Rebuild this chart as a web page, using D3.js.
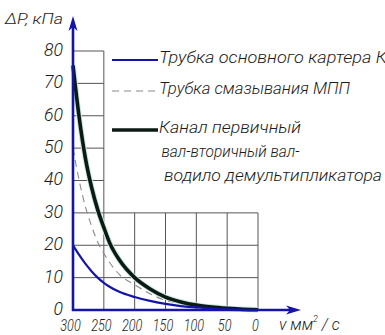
<!DOCTYPE html>
<html>
<head>
<meta charset="utf-8">
<script src="https://cdn.jsdelivr.net/npm/d3@7"></script>
<style>
  body { margin: 0; background: #fff; }
  text { font-family: Roboto, "DejaVu Sans", sans-serif; font-style: italic; font-weight: 300; fill: #1a1a1a; }
</style>
</head>
<body>
<div id="chart"></div>
<script>
// Viscosity (mm²/s) vs pressure drop (kPa)
const viscosity = [300, 290, 280, 270, 260, 250, 240, 225, 200, 175, 150, 125, 100, 75, 50, 25, 0];
const crankcaseTube = [20, 17, 14.3, 12, 10, 8.4, 7.1, 5.6, 4, 2.8, 1.9, 1.2, 0.8, 0.45, 0.2, 0.05, 0];
const lubeTube = [50, 40, 32, 26, 21, 17.5, 14.5, 11, 7.8, 5, 3, 2, 1.2, 0.7, 0.4, 0.15, 0.05];
const shaftChannel = [75.5, 59.5, 47, 38, 31, 25.5, 20.5, 15.5, 10, 6.5, 4, 2.5, 1.5, 0.9, 0.5, 0.2, 0.1];

const vTicks = [300, 250, 200, 150, 100, 50, 0];
const pTicks = [0, 10, 20, 30, 40, 50, 60, 70, 80];

const legendLabels = [
    ["Трубка основного картера К"],
    ["Трубка смазывания МПП"],
    ["Канал первичный", "вал-вторичный вал-", "водило демультипликатора"]
];

const W = 385, H = 335;
const axisColor = "#1414a8";

const svg = d3.select("#chart").append("svg")
    .attr("width", W)
    .attr("height", H);

const x = d3.scaleLinear().domain([300, 0]).range([73, 258]);
const y = d3.scaleLinear().domain([0, 80]).range([310, 51]);

// grid: full height only in the first column, the rest up to 30
const grid = svg.append("g").attr("stroke", "#555").attr("stroke-width", 1);
pTicks.filter(d => d > 0).forEach(p => {
    grid.append("line")
        .attr("x1", x(300)).attr("x2", p > 30 ? x(250) : x(0))
        .attr("y1", y(p)).attr("y2", y(p));
});
vTicks.filter(d => d < 300).forEach(v => {
    grid.append("line")
        .attr("x1", x(v)).attr("x2", x(v))
        .attr("y1", y(0)).attr("y2", v === 250 ? y(80) : y(30));
});

// curves
const line = vals => d3.line()
    .x((d, i) => x(viscosity[i]))
    .y(d => y(d))
    .curve(d3.curveMonotoneX)(vals);

svg.append("path").attr("d", line(lubeTube))
    .attr("fill", "none").attr("stroke", "#8a8a8a")
    .attr("stroke-width", 1.1).attr("stroke-dasharray", "7,5");

svg.append("path").attr("d", line(shaftChannel))
    .attr("fill", "none").attr("stroke", "#c8e6dc").attr("stroke-width", 5.5);
svg.append("path").attr("d", line(shaftChannel))
    .attr("fill", "none").attr("stroke", "#0b1a12").attr("stroke-width", 3.6);

svg.append("path").attr("d", line(crankcaseTube))
    .attr("fill", "none").attr("stroke", axisColor).attr("stroke-width", 2.2);

// axes
svg.append("line")
    .attr("x1", x(300)).attr("x2", x(300))
    .attr("y1", y(0) + 1).attr("y2", 26)
    .attr("stroke", axisColor).attr("stroke-width", 2.6);
svg.append("path")
    .attr("d", `M${x(300)},16 L${x(300) - 4.5},31 L${x(300)},27 L${x(300) + 4.5},31 Z`)
    .attr("fill", axisColor);

svg.append("line")
    .attr("x1", x(300) - 1).attr("x2", 294)
    .attr("y1", y(0)).attr("y2", y(0))
    .attr("stroke", axisColor).attr("stroke-width", 2.6);
svg.append("path")
    .attr("d", `M301,${y(0)} L286,${y(0) - 4.5} L290,${y(0)} L286,${y(0) + 4.5} Z`)
    .attr("fill", axisColor);

// tick labels
const yAxis = svg.append("g")
    .attr("transform", `translate(${x(300)},-2)`)
    .call(d3.axisLeft(y).tickValues(pTicks).tickSize(0).tickPadding(10));
yAxis.select(".domain").remove();
yAxis.selectAll("text")
    .attr("font-size", 18)
    .attr("dy", "0.36em")
    .attr("textLength", d => String(d).length * 9.5)
    .attr("lengthAdjust", "spacingAndGlyphs");

const xAxis = svg.append("g")
    .attr("transform", `translate(-3,${y(0)})`)
    .call(d3.axisBottom(x).tickValues(vTicks).tickSize(0).tickPadding(9));
xAxis.select(".domain").remove();
xAxis.selectAll("text")
    .attr("font-size", 16)
    .attr("dy", "0.72em")
    .attr("textLength", d => String(d).length * 6.8)
    .attr("lengthAdjust", "spacingAndGlyphs");
svg.selectAll(".tick text").attr("fill", "#1a1a1a").style("font-family", null);

// axis titles
svg.append("text")
    .attr("x", 5).attr("y", 24)
    .attr("font-size", 15)
    .attr("textLength", 58).attr("lengthAdjust", "spacingAndGlyphs")
    .text("ΔP, кПа");

const xt = svg.append("text")
    .attr("x", 279).attr("y", 330)
    .attr("font-size", 16);
xt.append("tspan").text("v мм");
xt.append("tspan").attr("font-size", 9).attr("dy", -8).text("2");
xt.append("tspan").attr("dy", 8).text(" / с");

// legend
const legendY = [60, 91, 130];
const legendW = [[228], [191], [142, 138, 218]];
const legendStyles = [
    { stroke: axisColor, width: 2.2, dash: null },
    { stroke: "#8a8a8a", width: 1.1, dash: "7,5" },
    { stroke: "#0b1a12", width: 3.6, dash: null }
];

legendLabels.forEach((lines, i) => {
    const s = legendStyles[i];
    svg.append("line")
        .attr("x1", 112).attr("x2", 158)
        .attr("y1", legendY[i]).attr("y2", legendY[i])
        .attr("stroke", s.stroke).attr("stroke-width", s.width)
        .attr("stroke-dasharray", s.dash);
    lines.forEach((t, j) => {
        svg.append("text")
            .attr("x", 159 + j * 2.5)
            .attr("y", legendY[i] + 3 + j * 24)
            .attr("font-size", 16)
            .attr("textLength", legendW[i][j])
            .attr("lengthAdjust", "spacingAndGlyphs")
            .text(t);
    });
});
</script>
</body>
</html>
